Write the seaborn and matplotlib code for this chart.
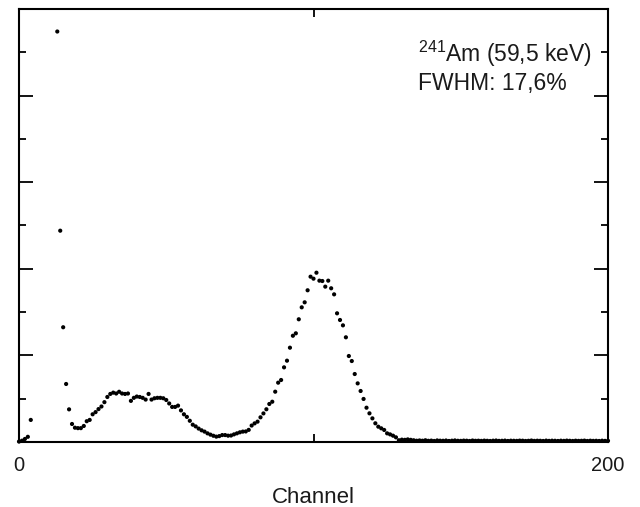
import numpy as np
import pandas as pd
import matplotlib
matplotlib.use("Agg")
import matplotlib.pyplot as plt
import seaborn as sns

# Channel numbers and counts (channels 5-12 are off-scale)
channels = list(range(0, 201))
counts_low = [5, 15, 35, 60, 255,
              np.nan, np.nan, np.nan, np.nan, np.nan, np.nan, np.nan, np.nan,
              4740, 2440, 1325, 670, 377, 208, 165, 160, 160, 185, 240, 255,
              320, 345, 380, 410, 460, 520, 555, 570, 560, 580, 560, 555, 560,
              475, 510, 525, 520, 510, 490, 555, 490, 505, 510, 510, 505, 485,
              445, 405, 405, 420]
counts_valley = [365, 320, 290, 245, 200, 180, 155, 135, 120, 100, 85, 72,
                 62, 68, 80, 80, 73, 75, 88, 100, 112, 120, 122, 140, 190,
                 215, 235, 285, 330, 378, 439, 465, 581, 685, 716, 862, 939,
                 1089, 1227, 1255, 1417, 1555, 1613, 1752]
counts_peak = [1909, 1886, 1955, 1863, 1859, 1794, 1863, 1775, 1705, 1486,
               1409, 1347, 1209, 993, 935, 785, 677, 589, 497, 396, 331, 273,
               216, 177, 158, 139, 100, 88, 73, 54, 20, 27, 25, 30, 25, 20, 15]
counts_tail = [18, 15, 20, 14, 16, 12, 18, 15, 14, 17, 12, 15, 18, 14, 13,
               16, 15, 12, 17, 14, 15, 13, 16, 14, 12, 15, 17, 13, 14, 16,
               12, 15, 14, 13, 16, 15, 12, 14, 17, 13, 15, 14, 12, 16, 13,
               15, 14, 12, 15, 13, 16, 14, 12, 15, 13, 14, 16, 12, 15, 13,
               14, 12, 15, 13, 14]
counts = counts_low + counts_valley + counts_peak + counts_tail

xtick_values = [0, 100, 200]
xtick_labels = ["0", "", "200"]
y_major = [1000, 2000, 3000, 4000]
y_minor = [500, 1500, 2500, 3500, 4500]

df = pd.DataFrame({"Channel": channels, "Counts": counts})

sns.set_style("white")
plt.rcParams['font.family'] = ['Liberation Sans', 'DejaVu Sans']
plt.rcParams['mathtext.fontset'] = 'custom'
plt.rcParams['mathtext.rm'] = 'Liberation Sans'

fig = plt.figure(figsize=(6.4, 5.07), dpi=100)
ax = fig.add_axes([19/640, 1 - 442/507, (608 - 19)/640, (442 - 9)/507])

sns.scatterplot(data=df, x="Channel", y="Counts", ax=ax, color="black",
                s=9, linewidth=0, edgecolor="none", clip_on=False)

ax.set_xlim(0, 200)
ax.set_ylim(0, 5000)
ax.set_xticks(xtick_values)
ax.set_xticklabels(xtick_labels, fontsize=14.5)
ax.set_yticks(y_major)
ax.set_yticks(y_minor, minor=True)
ax.set_yticklabels([])
ax.tick_params(axis="x", direction="in", top=True, bottom=True, length=6,
               width=1.3, pad=10, color="black", labelcolor="#1a1a1a")
ax.tick_params(axis="y", which="major", direction="in", left=True, right=True,
               length=10, width=1.3, color="black")
ax.tick_params(axis="y", which="minor", direction="in", left=True, right=True,
               length=5, width=1.3, color="black")
for sp in ax.spines.values():
    sp.set_color("black")
    sp.set_linewidth(1.5)
ax.set_xlabel("Channel", fontsize=16, labelpad=9, color="#1a1a1a")
ax.set_ylabel("")

ax.text(0.677, 0.8776, r"$^{\mathrm{241}}$Am (59,5 keV)", transform=ax.transAxes,
        fontsize=16.5, color="#1a1a1a", ha="left", va="baseline")
ax.text(0.677, 0.813, "FWHM: 17,6%", transform=ax.transAxes,
        fontsize=16.5, color="#1a1a1a", ha="left", va="baseline")

fig.savefig("out.png", dpi=100)
